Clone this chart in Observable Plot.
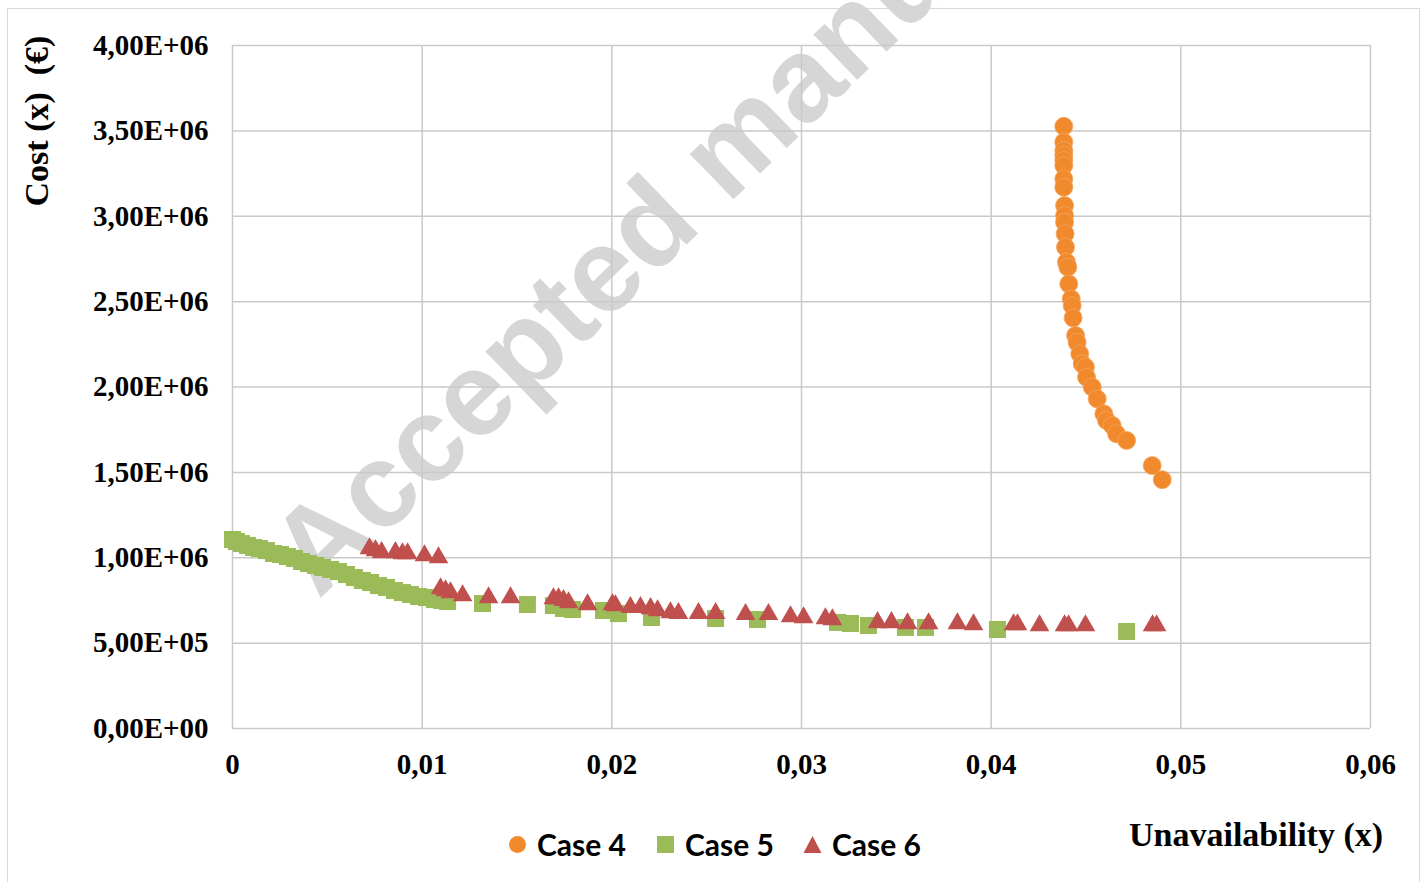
<!DOCTYPE html>
<html>
<head>
<meta charset="utf-8">
<script src="https://cdn.jsdelivr.net/npm/d3@7"></script>
<script src="https://cdn.jsdelivr.net/npm/@observablehq/plot@0.6"></script>
<style>
  html, body { margin: 0; padding: 0; background: #fff; }
  #wrap { position: relative; width: 1426px; height: 882px; overflow: hidden; background: #fff; }
  #border { position: absolute; left: 7px; top: 8px; width: 1413px; height: 890px; border: 1.5px solid #d9d9d9; box-sizing: border-box; }
  #watermark { position: absolute; left: 331px; top: 494px; height: 119px; line-height: 119px; font-family: "Liberation Sans", Arial, sans-serif; font-weight: bold; font-size: 119px; color: #d6d6d6; white-space: pre; transform-origin: 0 100%; transform: rotate(-44deg); }
  #chart { position: absolute; left: 0; top: 0; }
  #ytitle { position: absolute; left: 37px; top: 121px; transform: translate(-50%, -50%) rotate(-90deg); font-family: "Liberation Serif", "Times New Roman", serif; font-weight: bold; font-size: 34px; white-space: pre; color: #000; }
  #xtitle { position: absolute; left: 1129px; top: 816px; font-family: "Liberation Serif", "Times New Roman", serif; font-weight: bold; font-size: 34px; white-space: pre; color: #000; }
  .leg { position: absolute; top: 824px; height: 40px; display: flex; align-items: center; font-family: Lato, "Open Sans", sans-serif; font-weight: bold; font-size: 30px; color: #000; }
  .leg svg { margin-right: 10px; }
</style>
</head>
<body>
<div id="wrap">
  <div id="border"></div>
  <div id="watermark">Accepted manuscript</div>
  <div id="chart"></div>
  <div id="ytitle">Cost (x)  (€)</div>
  <div id="xtitle">Unavailability (x)</div>
  <div id="legend"></div>
</div>
<script>
// ---- Data ----
const seriesNames = ["Case 4", "Case 5", "Case 6"];
const seriesColors = ["#F08A2C", "#9BBB59", "#C0504D"];

const case4X = [0.04383,0.04383,0.04383,0.04383,0.04383,0.04383,0.04383,0.04383,0.04387,0.04387,0.04387,0.0439,0.04392,0.04397,0.04404,0.04409,0.04422,0.04427,0.04432,0.04445,0.04453,0.04467,0.0448,0.04497,0.04503,0.04533,0.04559,0.04594,0.04608,0.04638,0.04661,0.04714,0.04849,0.04902];
const case4Y = [3527000,3434000,3385000,3356000,3327000,3297000,3219000,3170000,3063000,3004000,2965000,2897000,2819000,2731000,2702000,2604000,2516000,2477000,2405000,2302000,2262000,2194000,2136000,2116000,2057000,1999000,1931000,1843000,1804000,1775000,1726000,1687000,1540000,1457000];

const case5X = [0,0.00021,0.00047,0.00079,0.00111,0.00142,0.00179,0.00216,0.00253,0.0029,0.00327,0.00364,0.00401,0.00438,0.00475,0.00517,0.00559,0.00601,0.00643,0.00685,0.00728,0.0077,0.00812,0.00854,0.00896,0.00938,0.00981,0.01023,0.01065,0.01102,0.01134,0.01318,0.01555,0.01692,0.01745,0.01793,0.01956,0.02035,0.02209,0.02547,0.02768,0.0319,0.03258,0.03353,0.03548,0.03654,0.04033,0.04714];
const case5Y = [1107000,1095000,1083000,1072000,1060000,1054000,1042000,1025000,1019000,1007000,996000,978000,966000,955000,943000,931000,919000,902000,884000,867000,855000,837000,826000,808000,796000,785000,773000,767000,755000,750000,744000,732000,726000,720000,703000,697000,691000,673000,650000,644000,638000,621000,615000,603000,592000,592000,580000,568000];

const case6X = [0.00722,0.00754,0.00786,0.00859,0.00896,0.00923,0.01012,0.01086,0.01097,0.01123,0.01149,0.01213,0.0135,0.01466,0.01692,0.01719,0.01745,0.01772,0.01872,0.02003,0.02019,0.02098,0.02151,0.02204,0.02241,0.02309,0.02351,0.02457,0.02547,0.02705,0.02826,0.02942,0.03011,0.03126,0.03163,0.03401,0.03474,0.03559,0.0367,0.03822,0.03907,0.04118,0.04139,0.04255,0.04387,0.04408,0.04497,0.04851,0.04872];
const case6Y = [1054000,1042000,1031000,1031000,1025000,1025000,1013000,1001000,820000,808000,796000,779000,767000,767000,761000,761000,750000,738000,726000,726000,720000,709000,709000,703000,691000,679000,674000,674000,674000,668000,668000,656000,650000,644000,638000,621000,621000,615000,615000,615000,609000,609000,609000,603000,603000,603000,603000,603000,603000];

const xTicks = [0, 0.01, 0.02, 0.03, 0.04, 0.05, 0.06];
const xTickLabels = ["0", "0,01", "0,02", "0,03", "0,04", "0,05", "0,06"];
const yTicks = [0, 500000, 1000000, 1500000, 2000000, 2500000, 3000000, 3500000, 4000000];
const yTickLabels = ["0,00E+00", "5,00E+05", "1,00E+06", "1,50E+06", "2,00E+06", "2,50E+06", "3,00E+06", "3,50E+06", "4,00E+06"];

// ---- Build tables ----
const toRows = (xs, ys) => xs.map((x, i) => ({x, y: ys[i]}));
const d4 = toRows(case4X, case4Y);
const d5 = toRows(case5X, case5Y);
const d6 = toRows(case6X, case6Y);

const gridColor = "#c9c9c9";

const chart = Plot.plot({
  width: 1426,
  height: 790,
  marginLeft: 232,
  marginRight: 56,
  marginTop: 45,
  marginBottom: 62,
  style: {background: "transparent", fontFamily: "'Liberation Serif', 'Times New Roman', serif", fontSize: "29px", fontWeight: "bold", color: "#000"},
  x: {domain: [0, 0.06], ticks: xTicks, tickFormat: d => xTickLabels[xTicks.indexOf(d)], tickSize: 0, tickPadding: 25, label: null},
  y: {domain: [0, 4000000], ticks: yTicks, tickFormat: d => yTickLabels[yTicks.indexOf(d)], tickSize: 0, tickPadding: 24, label: null},
  marks: [
    Plot.ruleX(xTicks, {stroke: gridColor, strokeWidth: 1.5}),
    Plot.ruleY(yTicks, {stroke: gridColor, strokeWidth: 1.5}),
    Plot.dot(d5, {x: "x", y: "y", symbol: "square", r: 9.6, fill: seriesColors[1], stroke: "none"}),
    Plot.dot(d6, {x: "x", y: "y", symbol: "triangle", r: 7.3, fill: seriesColors[2], stroke: "none"}),
    Plot.dot(d4, {x: "x", y: "y", symbol: "circle", r: 9, fill: seriesColors[0], stroke: "#F6A45E", strokeWidth: 0.8})
  ]
});
document.getElementById("chart").appendChild(chart);

// ---- Legend ----
const legendPos = [
  {left: 508, sym: "circle"},
  {left: 656, sym: "square"},
  {left: 803, sym: "triangle"}
];
const legend = document.getElementById("legend");
seriesNames.forEach((name, i) => {
  const item = document.createElement("div");
  item.className = "leg";
  item.style.left = legendPos[i].left + "px";
  const s = d3.create("svg").attr("width", 19).attr("height", 19);
  const sym = legendPos[i].sym;
  if (sym === "circle") s.append("circle").attr("cx", 9.5).attr("cy", 9.5).attr("r", 8.5).attr("fill", seriesColors[i]);
  else if (sym === "square") s.append("rect").attr("x", 1).attr("y", 1).attr("width", 17).attr("height", 17).attr("fill", seriesColors[i]);
  else s.append("path").attr("d", "M9.5,1L18.5,18L0.5,18Z").attr("fill", seriesColors[i]);
  item.appendChild(s.node());
  const t = document.createElement("span");
  t.textContent = name;
  item.appendChild(t);
  legend.appendChild(item);
});
</script>
</body>
</html>
